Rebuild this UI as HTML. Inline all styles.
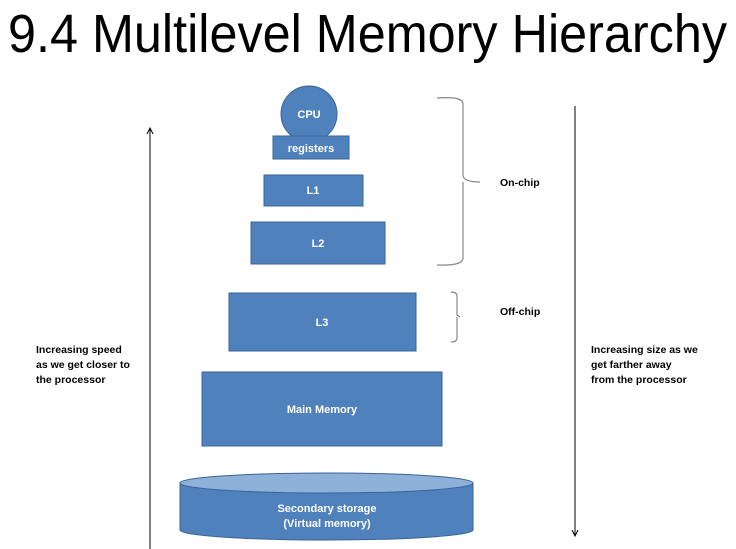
<!DOCTYPE html>
<html><head><meta charset="utf-8"><style>
html,body{margin:0;padding:0;background:#fff;}
svg{display:block;}
</style></head><body>
<svg width="736" height="549" viewBox="0 0 736 549" xmlns="http://www.w3.org/2000/svg" font-family="Liberation Sans, sans-serif">
<text x="8" y="52" font-size="54" textLength="719" lengthAdjust="spacingAndGlyphs" fill="#000">9.4 Multilevel Memory Hierarchy</text>
<g fill="#4f81bd" stroke="#3a6496" stroke-width="1">
<circle cx="309" cy="114" r="28"/>
<rect x="273" y="136" width="76" height="23"/>
<rect x="264" y="175" width="99" height="31"/>
<rect x="251" y="222" width="134" height="42"/>
<rect x="229" y="293" width="187" height="58"/>
<rect x="202" y="372" width="240" height="74"/>
<path d="M180 483 L180 530 A146.5 10 0 0 0 473 530 L473 483 Z"/>
<ellipse cx="326.5" cy="483" rx="146.5" ry="10" fill="#8eb1da"/>
</g>
<g fill="#fff" font-weight="bold" font-size="11" text-anchor="middle">
<text x="309" y="118">CPU</text>
<text x="311" y="152">registers</text>
<text x="313" y="194">L1</text>
<text x="318" y="247">L2</text>
<text x="322" y="326">L3</text>
<text x="322" y="413">Main Memory</text>
<text x="327" y="512">Secondary storage</text>
<text x="327" y="527">(Virtual memory)</text>
</g>
<g fill="none" stroke="#888" stroke-width="1.2">
<path d="M437 98 Q463 96 463 104 L463 175 Q463 182 480 182 M463 182 Q463 182 463 190 L463 258 Q463 266 437 265"/>
<path d="M451 292 Q457 292 457 296 L457 315 L460 317 M457 317 L457 338 Q457 342 451 342"/>
</g>
<g font-size="10.5" font-weight="bold" fill="#000">
<text x="500" y="186">On-chip</text>
<text x="500" y="315">Off-chip</text>
<text x="36" y="353">Increasing speed</text>
<text x="36" y="368">as we get closer to</text>
<text x="36" y="383">the processor</text>
<text x="591" y="353">Increasing size as we</text>
<text x="591" y="368">get farther  away</text>
<text x="591" y="383">from the processor</text>
</g>
<g stroke="#000" stroke-width="1" fill="none">
<line x1="150" y1="549" x2="150" y2="129"/>
<path d="M147 134 L150 128 L153 134"/>
<line x1="575" y1="106" x2="575" y2="535"/>
<path d="M572 530 L575 536 L578 530"/>
</g>
</svg>
</body></html>
